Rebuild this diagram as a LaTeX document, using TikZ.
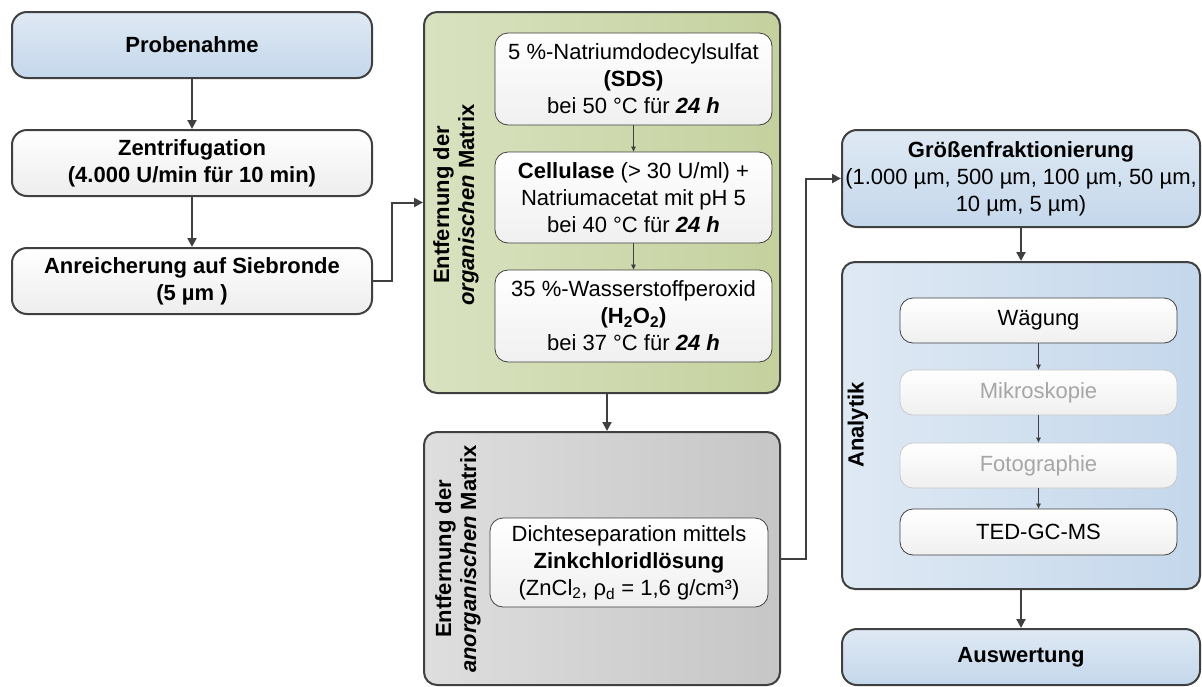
\documentclass[tikz,border=0pt]{standalone}
\usepackage{fontspec}
\setmainfont{Liberation Sans}
\usetikzlibrary{arrows.meta}
\definecolor{rand}{HTML}{404040}
\definecolor{blass}{HTML}{A6A6A6}
\definecolor{blassrand}{HTML}{C8C8C8}
\definecolor{blauhell}{RGB}{223,233,244}
\definecolor{blaudunkel}{RGB}{196,215,235}
\definecolor{gruenhell}{RGB}{217,226,192}
\definecolor{gruendunkel}{RGB}{196,209,158}
\definecolor{grauhell}{RGB}{222,222,222}
\definecolor{graudunkel}{RGB}{198,198,198}
\begin{document}
\begin{tikzpicture}[x=1pt, y=-1pt,
    every node/.style={font=\fontsize{22}{27}\selectfont, align=center, inner sep=0pt},
    dim/.style 2 args={minimum width=#1, minimum height=#2},
    stufe/.style={draw=rand, line width=2pt, rounded corners=15pt,
        top color=white, bottom color=black!7, font=\fontsize{22}{27}\selectfont\bfseries},
    blaustufe/.style={stufe, top color=blauhell, bottom color=blaudunkel},
    gruppe/.style={draw=rand, line width=2pt, rounded corners=13pt},
    schritt/.style={draw=rand, line width=0.8pt, rounded corners=13pt,
        top color=white, bottom color=black!6},
    blassschritt/.style={schritt, draw=blassrand, text=blass},
    gruppentitel/.style={rotate=90, font=\fontsize{22}{25}\selectfont\bfseries},
    dickpfeil/.style={draw=rand, line width=2pt, -{Triangle[length=9pt,width=9pt]}},
    duennpfeil/.style={draw=rand, line width=0.7pt, -{Triangle[length=5pt,width=4.5pt]}}]
    \useasboundingbox (0,0) rectangle (1202,686);

    % linke Spalte
    \node[blaustufe, dim={360pt}{66pt}] (prob) at (192,45) {Probenahme};
    \node[stufe, dim={360pt}{66pt}] (zent) at (192,163)
        {Zentrifugation\\(4.000 U/min für 10 min)};
    \node[stufe, dim={360pt}{66pt}] (anr) at (192,281)
        {Anreicherung auf Siebronde\\(5 µm )};
    \draw[dickpfeil] (prob) -- (zent);
    \draw[dickpfeil] (zent) -- (anr);

    % organische Matrix
    \node[gruppe, left color=gruenhell, right color=gruendunkel, dim={356pt}{381pt}]
        (org) at (602,202.5) {};
    \node[gruppentitel] (orgtitel) at (456,205)
        {Entfernung der\\\textit{organischen} Matrix};
    \node[schritt, dim={277pt}{92pt}] (sds) at (633.5,79)
        {5 \%-Natriumdodecylsulfat\\\textbf{(SDS)}\\bei 50 °C für \textbf{\textit{24 h}}};
    \node[schritt, dim={277pt}{91pt}] (cell) at (633.5,197.5)
        {\textbf{Cellulase} (> 30 U/ml) +\\Natriumacetat mit pH 5\\bei 40 °C für \textbf{\textit{24 h}}};
    \node[schritt, dim={277pt}{92pt}] (hzwo) at (633.5,316)
        {35 \%-Wasserstoffperoxid\\\textbf{(H\textsubscript{2}O\textsubscript{2})}\\bei 37 °C für \textbf{\textit{24 h}}};
    \draw[duennpfeil] (sds) -- (cell);
    \draw[duennpfeil] (cell) -- (hzwo);

    % anorganische Matrix
    \node[gruppe, left color=grauhell, right color=graudunkel, dim={356pt}{253pt}]
        (anorg) at (602,558.5) {};
    \node[gruppentitel] (anorgtitel) at (458,559)
        {Entfernung der\\\textit{anorganischen} Matrix};
    \node[schritt, dim={278pt}{89pt}] (zncl) at (629,562.5)
        {Dichteseparation mittels\\\textbf{Zinkchloridlösung}\\(ZnCl\textsubscript{2}, ρ\textsubscript{d} = 1,6 g/cm³)};

    % rechte Spalte
    \node[blaustufe, dim={358pt}{97pt}] (groesse) at (1021,178.5)
        {Größenfraktionierung\\\mdseries(1.000 µm, 500 µm, 100 µm, 50 µm,\\\mdseries10 µm, 5 µm)};
    \node[gruppe, left color=blauhell, right color=blaudunkel, dim={358pt}{327pt}]
        (ana) at (1021,425.5) {};
    \node[gruppentitel] (anatitel) at (858,425) {Analytik};
    \node[schritt, dim={277pt}{45pt}] (waeg) at (1038.5,320.5) {Wägung};
    \node[blassschritt, dim={277pt}{45pt}] (mikro) at (1038.5,392.5) {Mikroskopie};
    \node[blassschritt, dim={277pt}{45pt}] (foto) at (1038.5,465.5) {Fotographie};
    \node[schritt, dim={277pt}{46pt}] (ted) at (1038.5,532) {TED-GC-MS};
    \node[blaustufe, dim={358pt}{56pt}] (ausw) at (1021,657) {Auswertung};
    \draw[duennpfeil] (waeg) -- (mikro);
    \draw[duennpfeil] (mikro) -- (foto);
    \draw[duennpfeil] (foto) -- (ted);

    % Verbindungen
    \draw[dickpfeil] (anr.east) -- ++(19,0) |- (org.west);
    \draw[dickpfeil] ([xshift=5pt]org.south) -- ([xshift=5pt]anorg.north);
    \draw[dickpfeil] (anorg.east) -- ++(25,0) |- (groesse.west);
    \draw[dickpfeil] (groesse) -- (ana);
    \draw[dickpfeil] (ana) -- (ausw);
\end{tikzpicture}
\end{document}
